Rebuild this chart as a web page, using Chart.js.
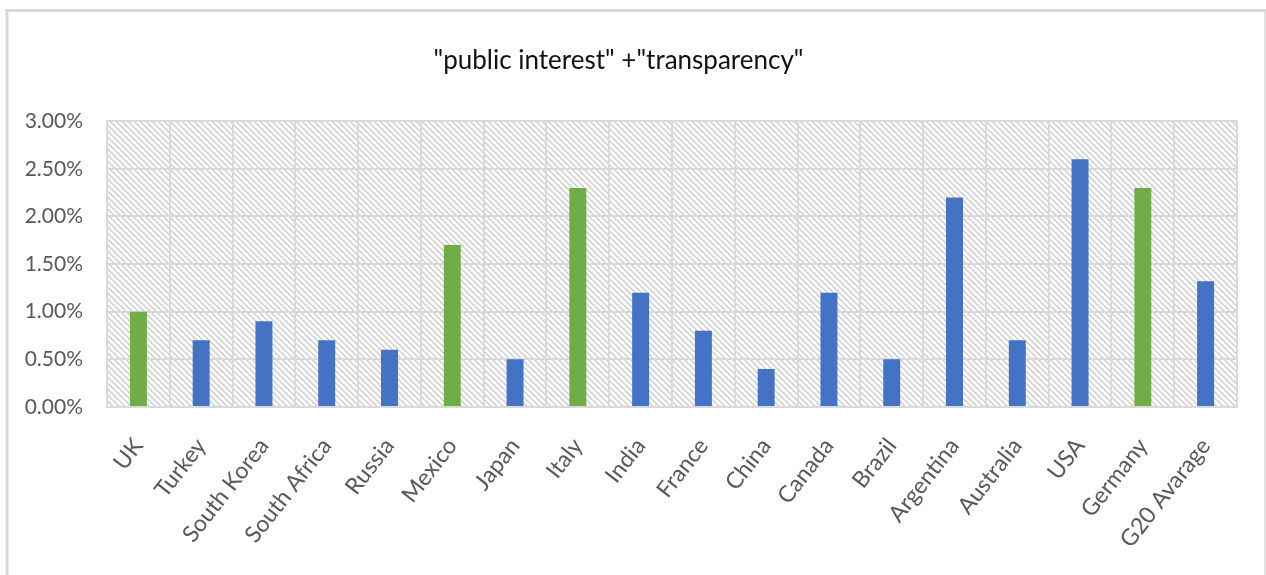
<!DOCTYPE html>
<html>
<head>
<meta charset="utf-8">
<script src="https://cdn.jsdelivr.net/npm/chart.js@4/dist/chart.umd.min.js"></script>
<style>
  html, body { margin: 0; padding: 0; background: #ffffff; }
  #wrap { position: relative; width: 1266px; height: 575px; }
</style>
</head>
<body>
<div id="wrap"><canvas id="chart" width="1266" height="575"></canvas></div>
<script>
// Share of texts mentioning "public interest" + "transparency", per G20 member
const countries = ['UK', 'Turkey', 'South Korea', 'South Africa', 'Russia', 'Mexico', 'Japan', 'Italy',
  'India', 'France', 'China', 'Canada', 'Brazil', 'Argentina', 'Australia', 'USA', 'Germany', 'G20 Avarage'];
const shares = [1.0, 0.7, 0.9, 0.7, 0.6, 1.7, 0.5, 2.3, 1.2, 0.8, 0.4, 1.2, 0.5, 2.2, 0.7, 2.6, 2.3, 1.32];
const highlighted = ['UK', 'Mexico', 'Italy', 'Germany'];
const yTicks = [0, 0.5, 1.0, 1.5, 2.0, 2.5, 3.0];
const chartTitle = '"public interest" +"transparency"';

const BLUE = '#4472C4';
const GREEN = '#70AD47';
const GRID = '#d9d9d9';
const TEXT = '#595959';

// Diagonal hatch tile for the plot background
function makeHatch() {
  const p = 6;
  const c = document.createElement('canvas');
  c.width = p; c.height = p;
  const g = c.getContext('2d');
  const img = g.createImageData(p, p);
  for (let y = 0; y < p; y++) {
    for (let x = 0; x < p; x++) {
      const k = (((x - y) % p) + p) % p;
      const i = (y * p + x) * 4;
      const v = k < 2 ? 212 : (k === 2 ? 238 : 255);
      img.data[i] = v; img.data[i + 1] = v; img.data[i + 2] = v; img.data[i + 3] = 255;
    }
  }
  g.putImageData(img, 0, 0);
  return c;
}
const hatchTile = makeHatch();

const backdrop = {
  id: 'backdrop',
  beforeDraw(chart) {
    const ctx = chart.ctx;
    const a = chart.chartArea;
    ctx.save();
    // outer frame
    ctx.strokeStyle = GRID;
    ctx.lineWidth = 3;
    ctx.beginPath();
    ctx.moveTo(7, 575);
    ctx.lineTo(7, 10.5);
    ctx.lineTo(1266, 10.5);
    ctx.stroke();
    ctx.lineWidth = 1.5;
    ctx.beginPath();
    ctx.moveTo(1265, 10);
    ctx.lineTo(1265, 575);
    ctx.stroke();
    // hatched plot area
    ctx.fillStyle = ctx.createPattern(hatchTile, 'repeat');
    ctx.fillRect(a.left, a.top, a.right - a.left, a.bottom - a.top);
    ctx.restore();
  }
};

new Chart(document.getElementById('chart'), {
  type: 'bar',
  data: {
    labels: countries,
    datasets: [{
      data: shares,
      backgroundColor: countries.map(c => highlighted.includes(c) ? GREEN : BLUE),
      barPercentage: 0.54,
      categoryPercentage: 0.5
    }]
  },
  options: {
    responsive: false,
    animation: false,
    devicePixelRatio: 1,
    layout: { padding: { left: 0, right: 29, top: 0, bottom: 0 } },
    plugins: {
      legend: { display: false },
      tooltip: { enabled: false },
      title: {
        display: true,
        text: chartTitle,
        color: '#111111',
        font: { family: 'Lato', size: 26, weight: 'normal' },
        padding: { top: 45, bottom: 45 }
      }
    },
    scales: {
      x: {
        grid: { color: GRID, lineWidth: 2, drawTicks: false, offset: true },
        border: { color: GRID, width: 2 },
        ticks: {
          color: TEXT,
          font: { family: 'Lato', size: 23 },
          minRotation: 52,
          maxRotation: 52,
          padding: 26,
          autoSkip: false
        },
        afterFit(scale) { scale.height = 168; }
      },
      y: {
        min: 0,
        max: 3,
        grid: { color: GRID, lineWidth: 2, drawTicks: false },
        border: { color: GRID, width: 2 },
        afterBuildTicks(scale) { scale.ticks = yTicks.map(v => ({ value: v })); },
        ticks: {
          color: TEXT,
          font: { family: 'Lato', size: 21 },
          padding: 24,
          callback: v => v.toFixed(2) + '%'
        },
        afterFit(scale) { scale.width = 107; }
      }
    }
  },
  plugins: [backdrop]
});
</script>
</body>
</html>
